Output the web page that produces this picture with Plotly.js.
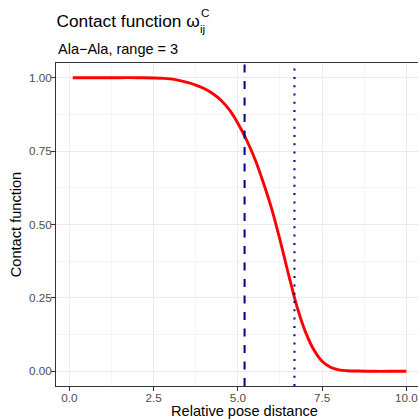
<!DOCTYPE html>
<html>
<head>
<meta charset="utf-8">
<script src="https://cdn.plot.ly/plotly-3.0.1.min.js"></script>
<style>
  html, body { margin: 0; padding: 0; overflow: hidden; background: #ffffff; }
</style>
</head>
<body>
<div id="chart"></div>
<script>
// Contact function sampled along the relative pose distance
const distance = [0.1, 0.5, 1, 1.5, 2, 2.5, 2.75, 3, 3.25, 3.5, 3.75, 4, 4.25, 4.5, 4.75, 5, 5.25, 5.5, 5.75, 6, 6.25, 6.5, 6.75, 7, 7.25, 7.5, 7.75, 8, 8.25, 8.5, 9, 9.5, 10];
const contact = [1, 1, 1, 1, 1, 0.999, 0.998, 0.996, 0.991, 0.984, 0.975, 0.963, 0.946, 0.923, 0.89, 0.845, 0.79, 0.725, 0.645, 0.555, 0.448, 0.332, 0.222, 0.136, 0.074, 0.034, 0.014, 0.005, 0.002, 0.001, 0, 0, 0];

// Reference distances marked with vertical lines
const dashedCutoff = 5.2;
const dottedCutoff = 6.68;

// Axis ticks
const xTicks = [0, 2.5, 5, 7.5, 10];
const xTickLabels = ['0.0', '2.5', '5.0', '7.5', '10.0'];
const yTicks = [0, 0.25, 0.5, 0.75, 1];
const yTickLabels = ['0.00', '0.25', '0.50', '0.75', '1.00'];

const FONT = '"Liberation Sans", Arial, Helvetica, sans-serif';
const W = 440, H = 419;
const M = { l: 56, r: 7, t: 63, b: 33 };
const plotW = W - M.l - M.r;
const plotH = H - M.t - M.b;
const px = X => (X - M.l) / plotW;        // container x -> paper x
const py = Y => (H - M.b - Y) / plotH;    // container y -> paper y

const axisCommon = {
  showline: true,
  mirror: true,
  linecolor: '#333333',
  linewidth: 1,
  ticks: 'outside',
  ticklen: 4,
  tickwidth: 1,
  tickcolor: '#333333',
  ticklabelstandoff: -3,
  showgrid: true,
  gridcolor: '#EBEBEB',
  gridwidth: 1,
  zeroline: false,
  tickfont: { family: FONT, size: 11.7, color: '#4D4D4D' },
  tickmode: 'array'
};

const trace = {
  x: distance,
  y: contact,
  type: 'scatter',
  mode: 'lines',
  line: { color: '#FF0000', width: 2.9, shape: 'spline', smoothing: 1 },
  hoverinfo: 'skip',
  showlegend: false
};

const layout = {
  width: W,
  height: H,
  margin: M,
  paper_bgcolor: '#ffffff',
  plot_bgcolor: '#ffffff',
  showlegend: false,
  title: {
    text: 'Contact function ω',
    font: { family: FONT, size: 17.3, color: '#000000' },
    xref: 'container', x: 56.5 / W, xanchor: 'left',
    yref: 'container', y: (H - 20.5) / H, yanchor: 'middle'
  },
  xaxis: Object.assign({}, axisCommon, {
    range: [-0.395, 10.79],
    tickvals: xTicks,
    ticktext: xTickLabels,
    minor: { dtick: 1.25, tick0: 0, showgrid: true, gridcolor: '#EFEFEF', gridwidth: 0.6, ticks: '' },
    title: { text: 'Relative pose distance', font: { family: FONT, size: 14.6, color: '#000000' }, standoff: 7 }
  }),
  yaxis: Object.assign({}, axisCommon, {
    range: [-0.05, 1.05],
    tickvals: yTicks,
    ticktext: yTickLabels,
    minor: { dtick: 0.25, tick0: 0.125, showgrid: true, gridcolor: '#EFEFEF', gridwidth: 0.6, ticks: '' },
    title: { text: 'Contact function', font: { family: FONT, size: 14.6, color: '#000000' }, standoff: 3 }
  }),
  shapes: [
    { type: 'line', xref: 'x', yref: 'paper', x0: dashedCutoff, x1: dashedCutoff, y0: 0, y1: 1, layer: 'above',
      line: { color: '#00008B', width: 2, dash: '8px,8.5px' } },
    { type: 'line', xref: 'x', yref: 'paper', x0: dottedCutoff, x1: dottedCutoff, y0: 0, y1: 1, layer: 'above',
      line: { color: '#00008B', width: 2, dash: '2px,6.3px' } }
  ],
  annotations: [
    { text: 'ij', xref: 'paper', yref: 'paper', x: px(198), y: py(28), xanchor: 'left', yanchor: 'middle',
      showarrow: false, font: { family: FONT, size: 11.7, color: '#000000' } },
    { text: 'C', xref: 'paper', yref: 'paper', x: px(199), y: py(12.5), xanchor: 'left', yanchor: 'middle',
      showarrow: false, font: { family: FONT, size: 11.7, color: '#000000' } },
    { text: 'Ala\u2212Ala, range = 3', xref: 'paper', yref: 'paper', x: px(55.5), y: py(49.5), xanchor: 'left', yanchor: 'middle',
      showarrow: false, font: { family: FONT, size: 14.5, color: '#000000' } }
  ]
};

Plotly.newPlot('chart', [trace], layout, { displayModeBar: false, staticPlot: true });
</script>
</body>
</html>
